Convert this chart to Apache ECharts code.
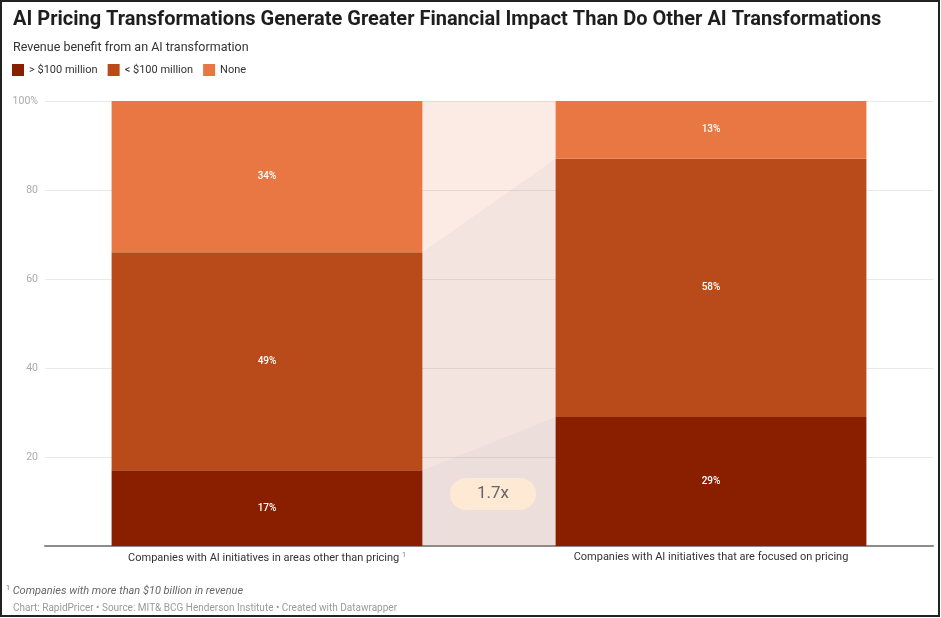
<!DOCTYPE html>
<html>
<head>
<meta charset="utf-8">
<script src="https://cdn.jsdelivr.net/npm/echarts@6/dist/echarts.min.js"></script>
<style>
  html, body { margin: 0; padding: 0; background: #fff; }
  #chart { width: 941px; height: 618px; }
</style>
</head>
<body>
<div id="chart"></div>
<script>
const categories = [
  "Companies with AI initiatives in areas other than pricing",
  "Companies with AI initiatives that are focused on pricing"
];
const seriesNames = ["> $100 million", "< $100 million", "None"];
const bigBenefit = [17, 29];
const smallBenefit = [49, 58];
const noBenefit = [34, 13];
const multiplierLabel = "1.7x";
const yTicks = [0, 20, 40, 60, 80, 100];

const colors = ["#8a1f00", "#b94a1a", "#e87743"];
const font = "Roboto, 'Noto Sans', sans-serif";

// cumulative tops, used for the connector shapes between bars
const topBig = bigBenefit.slice();
const topSmall = bigBenefit.map((v, i) => v + smallBenefit[i]);

const chart = echarts.init(document.getElementById("chart"));

const barLabel = {
  show: true,
  position: "inside",
  formatter: "{c}%",
  color: "#fff",
  fontSize: 10,
  fontWeight: 500,
  fontFamily: font
};

function renderConnector(params, api) {
  const bw = api.size([1, 0])[0] * 0.7;
  const xa = api.coord([0, 0])[0] + bw / 2;
  const xb = api.coord([1, 0])[0] - bw / 2;
  const y0 = api.coord([0, 0])[1];
  const y100 = api.coord([0, 100])[1];
  const ySmallA = api.coord([0, topSmall[0]])[1];
  const ySmallB = api.coord([1, topSmall[1]])[1];
  const yBigA = api.coord([0, topBig[0]])[1];
  const yBigB = api.coord([1, topBig[1]])[1];
  const yLab = api.coord([0, 11.7])[1];
  const xLab = (xa + xb) / 2 + 4;
  return {
    type: "group",
    children: [
      {
        type: "rect",
        shape: { x: xa, y: y100, width: xb - xa, height: y0 - y100 },
        style: { fill: "rgba(235,130,95,0.17)" }
      },
      {
        type: "polygon",
        shape: { points: [[xa, y0], [xa, ySmallA], [xb, ySmallB], [xb, y0]] },
        style: { fill: "rgba(110,130,150,0.055)" }
      },
      {
        type: "polygon",
        shape: { points: [[xa, y0], [xa, yBigA], [xb, yBigB], [xb, y0]] },
        style: { fill: "rgba(110,130,150,0.055)" }
      },
      {
        type: "rect",
        shape: { x: xLab - 43, y: yLab - 16, width: 86, height: 32, r: 16 },
        style: { fill: "#fde9d4" }
      },
      {
        type: "text",
        x: xLab,
        y: yLab,
        style: {
          text: multiplierLabel,
          fill: "#666",
          fontSize: 17,
          fontFamily: font,
          align: "center",
          verticalAlign: "middle"
        }
      }
    ]
  };
}

chart.setOption({
  animation: false,
  title: [
    {
      text: "AI Pricing Transformations Generate Greater Financial Impact Than Do Other AI Transformations",
      left: 8, top: 5,
      textStyle: { fontSize: 20, fontWeight: "bold", color: "#1e1e1e", fontFamily: font }
    },
    {
      text: "Revenue benefit from an AI transformation",
      left: 8, top: 36,
      textStyle: { fontSize: 12.5, fontWeight: "normal", color: "#333", fontFamily: font }
    },
    {
      text: "{s|1} Companies with more than $10 billion in revenue",
      left: 1, top: 580,
      textStyle: {
        fontSize: 11, fontStyle: "italic", fontWeight: "normal", color: "#666", fontFamily: font,
        rich: { s: { fontSize: 7, fontStyle: "normal", color: "#666", verticalAlign: "top", padding: [0, 0, 6, 0] } }
      }
    },
    {
      text: "Chart: RapidPricer \u2022 Source: MIT& BCG Henderson Institute \u2022 Created with Datawrapper",
      left: 8, top: 598,
      textStyle: { fontSize: 10, fontWeight: "normal", color: "#9a9a9a", fontFamily: font }
    }
  ],
  legend: {
    left: 7, top: 59,
    icon: "rect",
    itemWidth: 12, itemHeight: 12, itemGap: 10,
    textStyle: { fontSize: 11, color: "#333", fontFamily: font },
    data: seriesNames
  },
  graphic: [
    {
      type: "rect",
      shape: { x: 1, y: 1, width: 938, height: 615 },
      style: { fill: null, stroke: "#222", lineWidth: 2 },
      silent: true
    }
  ],
  grid: { left: 45, right: 8, top: 101, bottom: 72 },
  xAxis: {
    type: "category",
    data: categories,
    axisLine: { lineStyle: { color: "#8c8c8c", width: 2 } },
    axisTick: { show: false },
    axisLabel: {
      margin: 6,
      fontSize: 11,
      color: "#333",
      fontFamily: font,
      formatter: (v, i) => i === 0 ? "{t|" + v + "} {s|1}" : "{t|" + v + "}",
      rich: {
        t: { fontSize: 11, color: "#333", fontFamily: font },
        s: { fontSize: 7, color: "#777", fontFamily: font, verticalAlign: "top", padding: [0, 0, 5, 0] }
      }
    }
  },
  yAxis: {
    type: "value",
    min: yTicks[0], max: yTicks[yTicks.length - 1], interval: 20,
    axisLine: { show: false },
    axisTick: { show: false },
    splitLine: { lineStyle: { color: "#e9e9e9" } },
    axisLabel: {
      margin: 7,
      fontSize: 10.5,
      color: "#aaa",
      fontFamily: font,
      formatter: v => v === 0 ? "" : (v === 100 ? v + "%" : String(v))
    }
  },
  series: [
    {
      type: "custom",
      silent: true,
      renderItem: renderConnector,
      data: [[0, 0]],
      z: 1
    },
    {
      name: seriesNames[0], type: "bar", stack: "a", barWidth: "70%",
      itemStyle: { color: colors[0] }, label: barLabel, data: bigBenefit, z: 2
    },
    {
      name: seriesNames[1], type: "bar", stack: "a", barWidth: "70%",
      itemStyle: { color: colors[1] }, label: barLabel, data: smallBenefit, z: 2
    },
    {
      name: seriesNames[2], type: "bar", stack: "a", barWidth: "70%",
      itemStyle: { color: colors[2] }, label: barLabel, data: noBenefit, z: 2
    }
  ]
});
</script>
</body>
</html>
